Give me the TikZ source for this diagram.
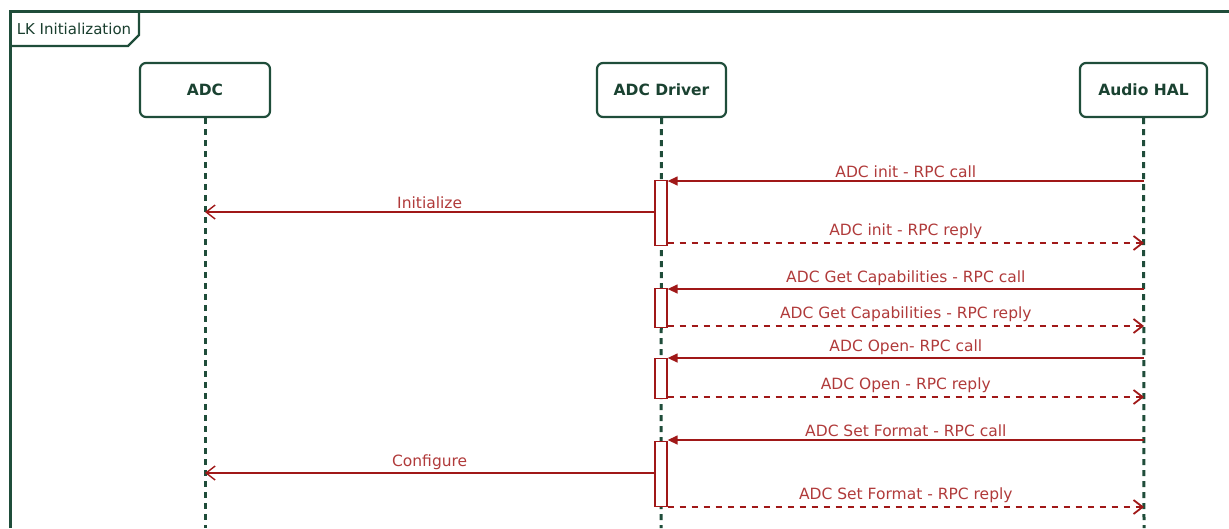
\documentclass[tikz,border=0pt]{standalone}
\usepackage{fontspec}
\setmainfont{DejaVu Sans}
\usetikzlibrary{arrows.meta}
\definecolor{fgreen}{HTML}{1F4D3A}
\definecolor{mred}{HTML}{A01818}
\definecolor{tred}{HTML}{B03A3A}
\tikzset{
 frame/.style={draw=fgreen, line width=3pt},
 part/.style={draw=fgreen, line width=2.2pt, rounded corners=6pt, fill=white, minimum height=54pt, inner sep=0pt, font=\fontsize{15.5}{18}\selectfont\bfseries, text=fgreen!85!black},
 life/.style={draw=fgreen, line width=3pt, dash pattern=on 6pt off 5pt},
 act/.style={draw=mred, line width=1.3pt, fill=white, minimum width=12pt, inner sep=0pt, anchor=north},
 call/.style={draw=mred, line width=1.4pt, -{Triangle[length=10pt,width=9pt]}},
 sync/.style={draw=mred, line width=1.4pt, -{Straight Barb[length=9pt,width=14pt]}},
 reply/.style={draw=mred, line width=2.6pt, dash pattern=on 6pt off 6pt, -{Straight Barb[length=9pt,width=14pt,line width=1.8pt]}},
 lbl/.style={font=\fontsize{15.5}{18}\selectfont, text=tred, inner sep=3pt, above},
}
\begin{document}
\begin{tikzpicture}[x=1pt,y=-1pt]
\path[use as bounding box] (0,0) rectangle (1229,528);
% frame
\draw[frame] (10,528) -- (10,11) -- (1229,11);
\draw[frame, line width=2.2pt] (10,46) -- (128,46) -- (139,35) -- (139,11);
\node[font=\fontsize{15}{18}\selectfont, text=fgreen!80!black, inner sep=0pt] (title) at (74,29) {LK Initialization};
% participants
\node[part, minimum width=130pt] (adc) at (205,90) {ADC};
\node[part, minimum width=129pt] (drv) at (661.5,90) {ADC Driver};
\node[part, minimum width=127pt] (hal) at (1143.5,90) {Audio HAL};
\coordinate (adcE) at (205,528);
\coordinate (drvE) at (661,528);
\coordinate (halE) at (1144,528);
\draw[life] (adc.south) -- (adcE);
\draw[life] (drv.south) -- (drvE);
\draw[life] (hal.south) -- (halE);
% activations
\node[act, minimum height=65pt] (a1) at (661,180) {};
\node[act, minimum height=39pt] (a2) at (661,288) {};
\node[act, minimum height=40pt] (a3) at (661,358) {};
\node[act, minimum height=65pt] (a4) at (661,441) {};
% coordinates on lifelines
\coordinate (h1) at (1144,181);
\coordinate (d1) at (205,212);
\coordinate (h2) at (1144,243);
\coordinate (h3) at (1144,289);
\coordinate (h4) at (1144,326);
\coordinate (h5) at (1144,358);
\coordinate (h6) at (1144,397);
\coordinate (h7) at (1144,440);
\coordinate (d2) at (205,473);
\coordinate (h8) at (1144,507);
% messages
\draw[call] (h1) -- (h1 -| a1.east) node[lbl, midway] {ADC init - RPC call};
\draw[sync] (d1 -| a1.west) -- (d1) node[lbl, midway] {Initialize};
\draw[reply] (h2 -| a1.east) -- (h2) node[lbl, midway] {ADC init - RPC reply};
\draw[call] (h3) -- (h3 -| a2.east) node[lbl, midway] {ADC Get Capabilities - RPC call};
\draw[reply] (h4 -| a2.east) -- (h4) node[lbl, midway] {ADC Get Capabilities - RPC reply};
\draw[call] (h5) -- (h5 -| a3.east) node[lbl, midway] {ADC Open- RPC call};
\draw[reply] (h6 -| a3.east) -- (h6) node[lbl, midway] {ADC Open - RPC reply};
\draw[call] (h7) -- (h7 -| a4.east) node[lbl, midway] {ADC Set Format - RPC call};
\draw[sync] (d2 -| a4.west) -- (d2) node[lbl, midway] {Configure};
\draw[reply] (h8 -| a4.east) -- (h8) node[lbl, midway] {ADC Set Format - RPC reply};
\end{tikzpicture}
\end{document}
